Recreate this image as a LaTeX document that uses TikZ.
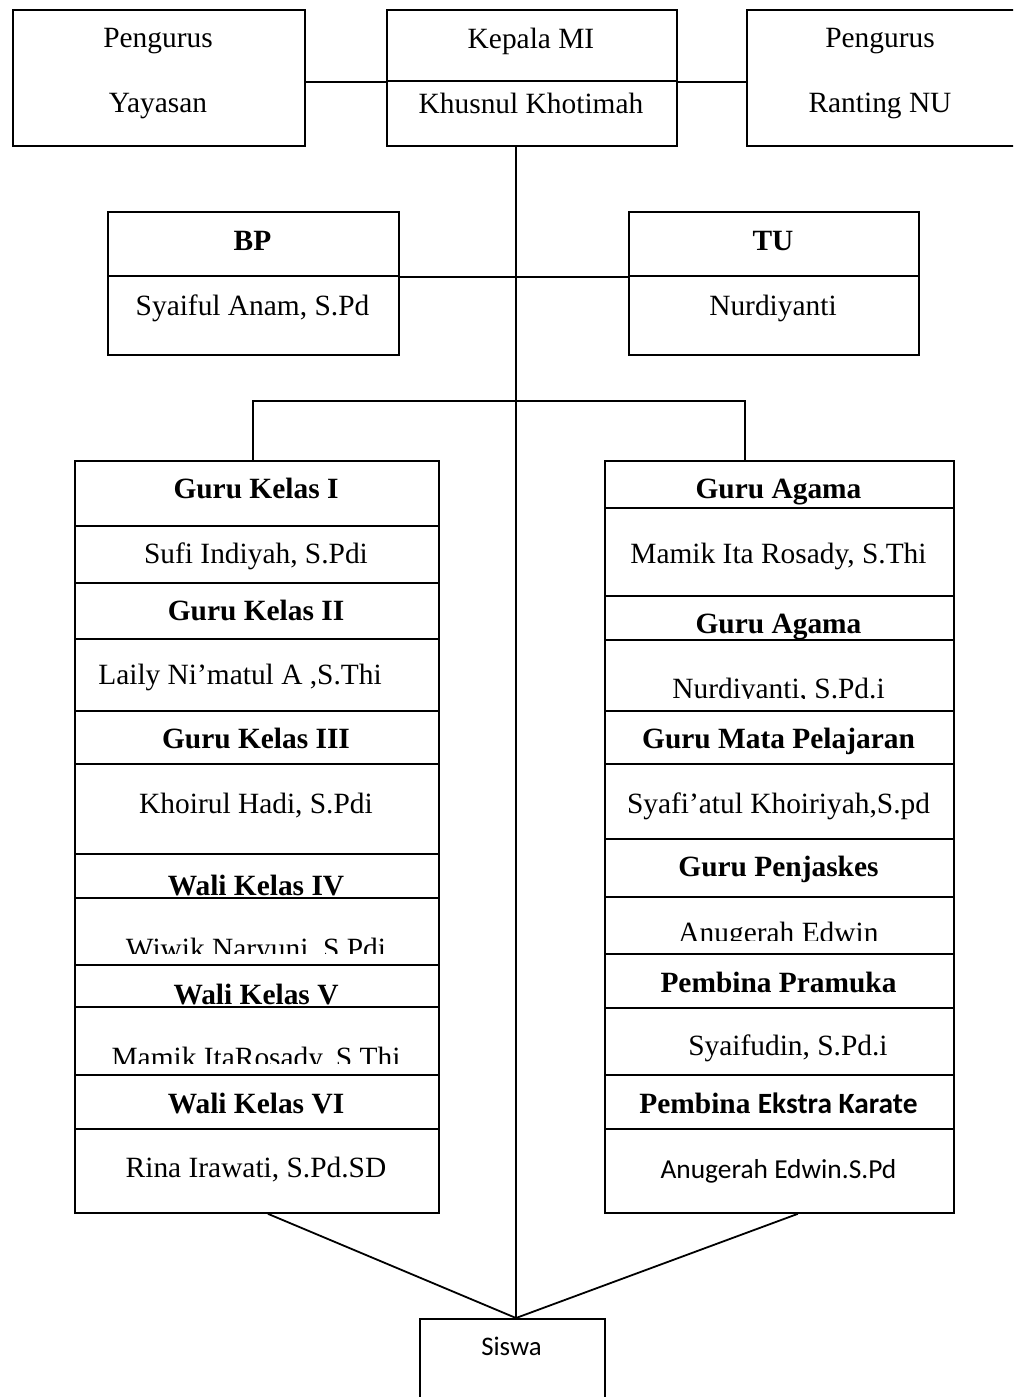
\documentclass[tikz,border=0pt]{standalone}
\usepackage{fontspec}
\setmainfont{Liberation Serif}
\newfontfamily\calibri{Carlito}
\usetikzlibrary{calc}
\tikzset{
    kotak/.style={draw, line width=0.9pt, fill=white, inner sep=0pt, anchor=north west},
    tulisan/.style={anchor=base, inner sep=0pt, font=\fontsize{14.7}{17}\selectfont},
    judul/.style={tulisan, font=\fontsize{14.7}{17}\selectfont\bfseries},
    garis/.style={line width=0.9pt}}
\begin{document}
\begin{tikzpicture}[x=0.5pt, y=-0.5pt]
    \useasboundingbox (0,0) rectangle (1013,1397);
    \clip (0,0) rectangle (1013,1397);

    % pengurus dan kepala
    \node[kotak, minimum width=146pt, minimum height=68pt] (yayasan) at (12,9) {};
    \node[tulisan] (t-yayasan1) at (158,47) {Pengurus};
    \node[tulisan] (t-yayasan2) at (158,112) {Yayasan};
    \node[kotak, minimum width=145pt, minimum height=35.5pt] (kepalaA) at (386,9) {};
    \node[kotak, minimum width=145pt, minimum height=32.5pt] (kepalaB) at (386,80) {};
    \node[tulisan] (t-kepala1) at (531,48) {Kepala MI};
    \node[tulisan] (t-kepala2) at (531,113) {Khusnul Khotimah};
    \node[kotak, minimum width=146pt, minimum height=68pt] (ranting) at (746,9) {};
    \node[tulisan] (t-ranting1) at (880,47) {Pengurus};
    \node[tulisan] (t-ranting2) at (880,112) {Ranting NU};

    % BP dan TU
    \node[kotak, minimum width=145.5pt, minimum height=32pt] (bpA) at (107,211) {};
    \node[kotak, minimum width=145.5pt, minimum height=39.5pt] (bpB) at (107,275) {};
    \node[judul] (t-bp1) at (252.5,250) {BP};
    \node[tulisan] (t-bp2) at (252.5,315) {Syaiful Anam, S.Pd};
    \node[kotak, minimum width=145pt, minimum height=32pt] (tuA) at (628,211) {};
    \node[kotak, minimum width=145pt, minimum height=39.5pt] (tuB) at (628,275) {};
    \node[judul] (t-tu1) at (773,250) {TU};
    \node[tulisan] (t-tu2) at (773,315) {Nurdiyanti};

    % kolom kiri
    \node[kotak, minimum width=182pt, minimum height=32.5pt] (gk1) at (74,460) {};
    \node[judul] (t-gk1) at (256,498) {Guru Kelas I};
    \node[kotak, minimum width=182pt, minimum height=28.5pt] (nm1) at (74,525) {};
    \node[tulisan] (t-nm1) at (256,563) {Sufi Indiyah, S.Pdi};
    \node[kotak, minimum width=182pt, minimum height=28pt] (gk2) at (74,582) {};
    \node[judul] (t-gk2) at (256,620) {Guru Kelas II};
    \node[kotak, minimum width=182pt, minimum height=36pt] (nm2) at (74,638) {};
    \node[tulisan] (t-nm2) at (240,684) {Laily Ni’matul A ,S.Thi};
    \node[kotak, minimum width=182pt, minimum height=26.5pt] (gk3) at (74,710) {};
    \node[judul] (t-gk3) at (256,748) {Guru Kelas III};
    \node[kotak, minimum width=182pt, minimum height=45pt] (nm3) at (74,763) {};
    \node[tulisan] (t-nm3) at (256,813) {Khoirul Hadi, S.Pdi};
    \node[kotak, minimum width=182pt, minimum height=22pt] (wk4) at (74,853) {};
    \node[judul] (t-wk4) at (256,895) {Wali Kelas IV};
    \node[kotak, minimum width=182pt, minimum height=33.5pt] (nm4) at (74,897) {};
    \begin{scope}
        \clip (74,897) rectangle (438,953);
        \node[tulisan] (t-nm4) at (256,958) {Wiwik Naryuni, S.Pdi};
    \end{scope}
    \node[kotak, minimum width=182pt, minimum height=21pt] (wk5) at (74,964) {};
    \node[judul] (t-wk5) at (256,1004) {Wali Kelas V};
    \node[kotak, minimum width=182pt, minimum height=34pt] (nm5) at (74,1006) {};
    \begin{scope}
        \clip (74,1006) rectangle (438,1063);
        \node[tulisan] (t-nm5) at (256,1067) {Mamik ItaRosady, S.Thi};
    \end{scope}
    \node[kotak, minimum width=182pt, minimum height=27pt] (wk6) at (74,1074) {};
    \node[judul] (t-wk6) at (256,1113) {Wali Kelas VI};
    \node[kotak, minimum width=182pt, minimum height=42pt] (nm6) at (74,1128) {};
    \node[tulisan] (t-nm6) at (256,1177) {Rina Irawati, S.Pd.SD};

    % kolom kanan
    \node[kotak, minimum width=174.5pt, minimum height=23.5pt] (ga1) at (604,460) {};
    \node[judul] (t-ga1) at (778.5,498) {Guru Agama};
    \node[kotak, minimum width=174.5pt, minimum height=44pt] (nr1) at (604,507) {};
    \node[tulisan] (t-nr1) at (778.5,563) {Mamik Ita Rosady, S.Thi};
    \node[kotak, minimum width=174.5pt, minimum height=22pt] (ga2) at (604,595) {};
    \node[judul] (t-ga2) at (778.5,633) {Guru Agama};
    \node[kotak, minimum width=174.5pt, minimum height=35.5pt] (nr2) at (604,639) {};
    \begin{scope}
        \clip (604,639) rectangle (953,698);
        \node[tulisan] (t-nr2) at (778.5,698) {Nurdiyanti, S.Pd.i};
    \end{scope}
    \node[kotak, minimum width=174.5pt, minimum height=26.5pt] (gm) at (604,710) {};
    \node[judul] (t-gm) at (778.5,748) {Guru Mata Pelajaran};
    \node[kotak, minimum width=174.5pt, minimum height=37.5pt] (nr3) at (604,763) {};
    \node[tulisan] (t-nr3) at (778.5,813) {Syafi’atul Khoiriyah,S.pd};
    \node[kotak, minimum width=174.5pt, minimum height=29pt] (gp) at (604,838) {};
    \node[judul] (t-gp) at (778.5,876) {Guru Penjaskes};
    \node[kotak, minimum width=174.5pt, minimum height=28.5pt] (nr4) at (604,896) {};
    \begin{scope}
        \clip (604,896) rectangle (953,940);
        \node[tulisan] (t-nr4) at (778.5,942) {Anugerah Edwin};
    \end{scope}
    \node[kotak, minimum width=174.5pt, minimum height=27pt] (pp) at (604,953) {};
    \node[judul] (t-pp) at (778.5,992) {Pembina Pramuka};
    \node[kotak, minimum width=174.5pt, minimum height=33.5pt] (nr5) at (604,1007) {};
    \node[tulisan] (t-nr5) at (788,1055) {Syaifudin, S.Pd.i};
    \node[kotak, minimum width=174.5pt, minimum height=27pt] (pe) at (604,1074) {};
    \node[judul] (t-pe) at (778.5,1113) {Pembina {\calibri Ekstra Karate}};
    \node[kotak, minimum width=174.5pt, minimum height=42pt] (nr6) at (604,1128) {};
    \node[tulisan, font=\calibri\fontsize{13.7}{16}\selectfont] (t-nr6) at (778.5,1178) {Anugerah Edwin.S.Pd};

    % siswa
    \node[kotak, minimum width=92.5pt, minimum height=50pt] (siswa) at (419,1318) {};
    \node[tulisan, font=\calibri\fontsize{13.4}{16}\selectfont] (t-siswa) at (511.5,1355) {Siswa};

    % garis penghubung
    \coordinate (pusat) at (516,145);
    \coordinate (cabangkiri) at (253,401);
    \coordinate (cabangkanan) at (745,401);
    \draw[garis] (pusat) -- (pusat |- siswa.north);
    \draw[garis] (yayasan.east |- kepalaA.south) -- (kepalaA.south west);
    \draw[garis] (kepalaA.south east) -- (ranting.west |- kepalaA.south);
    \draw[garis] (bpA.south east) -- (tuA.south west);
    \draw[garis] (cabangkiri |- gk1.north) -- (cabangkiri) -- (cabangkanan) -- (cabangkanan |- ga1.north);
    \draw[garis] ($(nm6.south)+(11,0)$) -- (pusat |- siswa.north) -- ($(nr6.south)+(18.5,0)$);
\end{tikzpicture}
\end{document}
